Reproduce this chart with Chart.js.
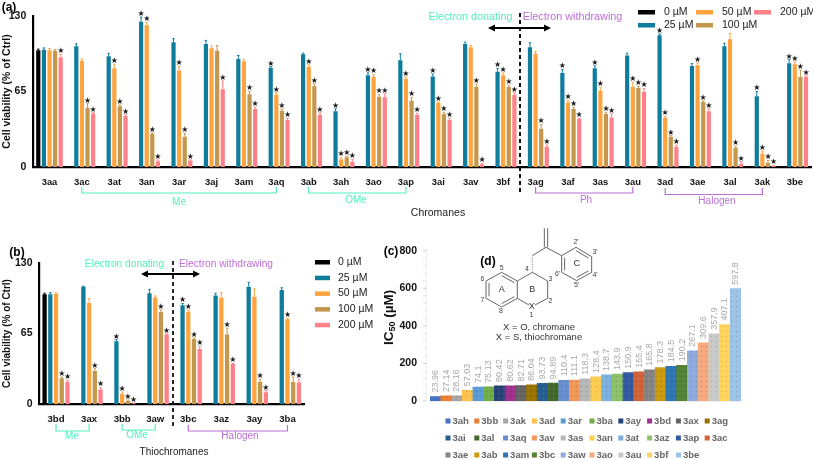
<!DOCTYPE html>
<html>
<head>
<meta charset="utf-8">
<title>Cell viability and IC50</title>
<script src="https://cdn.jsdelivr.net/npm/chart.js@4"></script>
<style>
  html, body { margin: 0; padding: 0; background: #fff; }
  body { width: 813px; height: 460px; position: relative; overflow: hidden; }
  canvas { position: absolute; }
</style>
</head>
<body>
<canvas id="chart-a" width="813" height="230" style="left:0;top:0"></canvas>
<canvas id="chart-b" width="380" height="225" style="left:0;top:235px"></canvas>
<canvas id="chart-c" width="433" height="245" style="left:380px;top:215px"></canvas>
<script>
// (a) chromanes
const catsA = ["3aa","3ac","3at","3an","3ar","3aj","3am","3aq","3ab","3ah","3ao","3ap","3ai","3av","3bf","3ag","3af","3as","3au","3ad","3ae","3al","3ak","3be"];
const a0 = [100.5,null,null,null,null,null,null,null,null,null,null,null,null,null,null,null,null,null,null,null,null,null,null,null];
const a25 = [101,104,95.4,125,107.5,106,93,85.4,97,48,79,92,78,106,82,103,81,85,96,113.5,87,104,61,89.4];
const a50 = [100.5,91.4,85,122,83,102.3,91,62,86,6.6,77.6,76,55,103,79,97.4,55.6,65.6,68.8,42.4,87.7,110,11.7,88.5];
const a100 = [100,51,52.4,28.7,26,100,62.7,48.4,69.6,8.3,60.5,57,45.6,69,68.8,33,50,45.6,68,26,56,16.6,3.7,77.4];
const a200 = [94.5,46,44,5,5.7,67,50,40.4,44.7,4.6,60,44.7,40.7,2.3,62,17.5,41.5,42.7,64.5,17.2,48,2.9,0.9,77.6];
const aErr0 = [1,0,0,0,0,0,0,0,0,0,0,0,0,0,0,0,0,0,0,0,0,0,0,0];
const aErr25 = [1.5,2,2.5,4,3,3,3,1,1,2,2,5.5,2,1.5,3,4,3,2,2,1,2,2.5,4,3];
const aErr50 = [1.5,1.5,3.5,2.5,3.5,2,1.5,2,2,1.5,2,1.5,1,1.5,2,2,2,3,4,1,2,5,2,2];
const aErr100 = [1,3.5,1,0.8,3,4.5,2.5,1.5,2,1,2,3,1.5,2.5,1.5,3.5,1.5,1.5,1.5,1,1,1,2,6];
const aErr200 = [2.5,0.8,1,1,0.5,7,1.5,1.5,2,2,3,1.5,1.5,1,2,1.5,0.5,3,3,1.5,2,1.5,0.3,1];
const aStar0 = catsA.map(() => 0);
const aStar25 = [0,0,0,1,0,0,0,1,0,1,1,0,1,0,1,0,1,1,0,1,0,0,1,1];
const aStar50 = [0,0,1,1,1,0,0,1,1,1,1,1,1,0,1,0,1,1,1,1,1,0,1,1];
const aStar100 = [0,1,1,1,1,0,1,1,1,1,1,1,1,1,1,1,1,1,1,1,1,1,1,1];
const aStar200 = [1,1,1,1,1,1,1,1,1,1,1,1,1,1,1,1,1,1,1,1,1,1,1,1];

// (b) thiochromanes
const catsB = ["3bd","3ax","3bb","3aw","3bc","3az","3ay","3ba"];
const b0 = [101,null,null,null,null,null,null,null];
const b25 = [101,108,57.8,102,91,100,108,105];
const b50 = [101.5,93,9.8,98,84.7,98,98.5,78];
const b100 = [24,30.6,3,84.7,60,64,20.5,20.5];
const b200 = [20.5,13.5,0.9,64,50.8,37,11,20];
const bErr0 = [1,0,0,0,0,0,0,0];
const bErr25 = [1.5,0.5,1.5,3.5,1.5,2,4,2];
const bErr50 = [1,4,1.5,1.5,2,4.5,7.5,1];
const bErr100 = [1,2,1,2,1,6,2.5,4.5];
const bErr200 = [1.5,2,0.3,0.8,2.5,0.5,1.5,3];
const bStar0 = [0,0,0,0,0,0,0,0];
const bStar25 = [0,0,1,0,1,0,0,0];
const bStar50 = [0,0,1,0,1,0,0,1];
const bStar100 = [1,1,1,1,1,1,1,1];
const bStar200 = [1,1,1,1,1,1,1,1];

const doseLabels = ["0 µM","25 µM","50 µM","100 µM","200 µM"];
const doseColors = ["#000000","#0f7c9b","#ffa33f","#c4974f","#ff8088"];

// (c) IC50
const catsC = ["3ah","3bb","3ak","3ad","3ar","3ba","3ay","3bd","3ax","3ag","3ai","3al","3aq","3av","3as","3an","3at","3az","3ap","3ac","3ae","3ab","3am","3bc","3aw","3ao","3au","3bf","3be"];
const ic50 = [23.96,27.14,28.16,57.03,74.1,75.13,80.42,80.62,82.71,86.04,93.73,94.89,110.4,111.1,118.3,128.4,138.7,143.9,150.9,155.4,165.8,178.3,184.5,190.2,267.1,309.6,357.9,407.1,597.8];
const colorsC = ["#4472c4","#ed7d31","#a5a5a5","#ffc04d","#5b9bd5","#70ad47","#264478","#a0308c","#636363","#997300","#255e91","#43682b","#698ed0","#f1975a","#b7b7b7","#ffcd4d","#7cafdd","#8cc168","#335aa1","#d26339","#848484","#c99a10","#2e75b6","#548235","#8faadc","#f4a97f","#c9c9c9","#ffd45c","#9dc3e6"];

const SANS = '"Liberation Sans", Arial, sans-serif';
const GREEN = "#55efc0";
const PURPLE = "#bd6fd6";

Chart.defaults.font.family = SANS;
Chart.defaults.animation = false;

function label(ctx, str, x, y, font, color, align, angle) {
    ctx.save();
    ctx.translate(x, y);
    if (angle) ctx.rotate(angle);
    ctx.font = font;
    ctx.fillStyle = color || "#000";
    ctx.textAlign = align || "center";
    ctx.textBaseline = "middle";
    ctx.fillText(str, 0, 0);
    ctx.restore();
}

function stroke(ctx, pts, color, width, dash) {
    ctx.save();
    ctx.beginPath();
    pts.forEach((p, i) => (i ? ctx.lineTo(p[0], p[1]) : ctx.moveTo(p[0], p[1])));
    ctx.strokeStyle = color;
    ctx.lineWidth = width;
    if (dash) ctx.setLineDash(dash);
    ctx.stroke();
    ctx.restore();
}

function bracket(ctx, x0, x1, yTop, yBot, color, text, textX, textY) {
    stroke(ctx, [[x0, yTop], [x0, yBot], [x1, yBot], [x1, yTop]], color, 1.2);
    label(ctx, text, textX, textY, "10px " + SANS, color);
}

function arrow(ctx, x0, x1, y) {
    stroke(ctx, [[x0 + 3, y], [x1 - 3, y]], "#000", 1.8);
    ctx.save();
    ctx.fillStyle = "#000";
    [[x0, 1], [x1, -1]].forEach(([x, d]) => {
        ctx.beginPath();
        ctx.moveTo(x, y);
        ctx.lineTo(x + d * 7, y - 3.5);
        ctx.lineTo(x + d * 7, y + 3.5);
        ctx.closePath();
        ctx.fill();
    });
    ctx.restore();
}

// error whiskers and significance stars, read from the dataset
const whiskers = {
    id: "whiskers",
    afterDatasetsDraw(chart) {
        const { ctx, scales } = chart;
        chart.data.datasets.forEach((ds, i) => {
            chart.getDatasetMeta(i).data.forEach((bar, j) => {
                const v = ds.data[j];
                if (v === null) return;
                const top = scales.y.getPixelForValue(v + ds.err[j]);
                stroke(ctx, [[bar.x, bar.y], [bar.x, top]], ds.backgroundColor, 1);
                stroke(ctx, [[bar.x - 1.2, top], [bar.x + 1.2, top]], ds.backgroundColor, 1);
                if (ds.star[j]) {
                    label(ctx, "★", bar.x, top - 3.2, '8px "DejaVu Sans"', "#1c1c1c");
                }
            });
        });
    },
};

function doseSets(values, errs, stars) {
    return values.map((data, i) => ({
        label: doseLabels[i],
        data,
        err: errs[i],
        star: stars[i],
        backgroundColor: doseColors[i],
        categoryPercentage: 0.865,
        barPercentage: 0.75,
    }));
}

function doseChart(id, cats, sets, yWidth, xHeight, padding, titleFont, tickFont, tickPad, extra) {
    return new Chart(document.getElementById(id), {
        type: "bar",
        data: { labels: cats, datasets: sets },
        options: {
            responsive: false,
            devicePixelRatio: 1,
            layout: { padding },
            plugins: { legend: { display: false }, tooltip: { enabled: false } },
            scales: {
                x: {
                    grid: { display: false, drawTicks: true, tickLength: 5, tickColor: "#000", tickWidth: 2 },
                    border: { color: "#000", width: 2.2 },
                    ticks: {
                        autoSkip: false,
                        maxRotation: 0,
                        padding: tickPad,
                        color: "#111",
                        font: { size: tickFont, weight: "bold" },
                    },
                    afterFit: (s) => { s.height = xHeight; },
                },
                y: {
                    min: 0,
                    max: 130,
                    grid: { display: false, drawTicks: true, tickLength: 5, tickColor: "#000", tickWidth: 2 },
                    border: { color: "#000", width: 2.2 },
                    title: {
                        display: true,
                        text: "Cell viability (% of Ctrl)",
                        color: "#111",
                        font: { size: titleFont, weight: "bold" },
                        padding: { top: 1, bottom: 0 },
                    },
                    ticks: {
                        stepSize: 32.5,
                        autoSkip: false,
                        padding: 2,
                        color: "#111",
                        font: { size: 10.5, weight: "bold" },
                        callback: (v) => (v % 65 === 0 ? v : ""),
                    },
                    afterFit: (s) => { s.width = yWidth; },
                },
            },
        },
        plugins: [whiskers, extra],
    });
}

doseChart("chart-a", catsA,
    doseSets([a0, a25, a50, a100, a200],
        [aErr0, aErr25, aErr50, aErr100, aErr200],
        [aStar0, aStar25, aStar50, aStar100, aStar200]),
    33.3, 63, { top: 16, right: 2 }, 10.5, 9.4, 5, {
        id: "notesA",
        afterDraw(chart) {
            const { ctx } = chart;
            const px = (c) => chart.scales.x.getPixelForValue(catsA.indexOf(c));
            label(ctx, "(a)", 9, 8, "bold 12px " + SANS);
            label(ctx, "Chromanes", 438, 213, "10.5px " + SANS, "#222");
            bracket(ctx, px("3ac"), px("3aq"), 187, 193, GREEN, "Me", 179, 202);
            bracket(ctx, px("3ab"), px("3ap"), 187, 193, GREEN, "OMe", 356, 200);
            bracket(ctx, px("3ag"), px("3au"), 187, 193, PURPLE, "Ph", 586, 200);
            bracket(ctx, px("3ad"), px("3ak"), 188, 194.5, PURPLE, "Halogen", 717, 201);
            stroke(ctx, [[520, 13], [520, 193]], "#111", 2, [4, 3]);
            arrow(ctx, 488, 551, 28);
            label(ctx, "Electron donating", 470.5, 17, "10.8px " + SANS, GREEN);
            label(ctx, "Electron withdrawing", 572.5, 17, "10.8px " + SANS, PURPLE);
            // legend: two rows in three columns
            const slots = [[638, 12], [638, 25], [696, 12], [696, 25], [754, 12]];
            slots.forEach(([x, y], i) => {
                ctx.fillStyle = doseColors[i];
                ctx.fillRect(x, y - 2, 17, 4.5);
                label(ctx, doseLabels[i], x + 26, y, "10.5px " + SANS, "#222", "left");
            });
        },
    });

doseChart("chart-b", catsB,
    doseSets([b0, b25, b50, b100, b200],
        [bErr0, bErr25, bErr50, bErr100, bErr200],
        [bStar0, bStar25, bStar50, bStar100, bStar200]),
    39.5, 55.7, { top: 27.7, right: 76 }, 10, 9.6, 4, {
        id: "notesB",
        afterDraw(chart) {
            const { ctx } = chart;
            const px = (c) => chart.scales.x.getPixelForValue(catsB.indexOf(c));
            ctx.save();
            ctx.translate(0, -235);
            label(ctx, "(b)", 17, 253, "bold 12px " + SANS);
            label(ctx, "Thiochromanes", 174, 452, "10px " + SANS, "#222");
            bracket(ctx, px("3bd"), px("3ax"), 424, 431, GREEN, "Me", 72, 436.5);
            bracket(ctx, px("3bb"), px("3aw"), 424, 430, GREEN, "OMe", 137, 435.5);
            bracket(ctx, px("3bc"), px("3ba"), 425, 431, PURPLE, "Halogen", 240, 436.5);
            stroke(ctx, [[173, 261], [173, 428]], "#111", 1.8, [4, 3]);
            arrow(ctx, 141, 200, 274);
            label(ctx, "Electron donating", 124.5, 264, "10.2px " + SANS, GREEN);
            label(ctx, "Electron withdrawing", 226, 264, "10.2px " + SANS, PURPLE);
            doseLabels.forEach((t, i) => {
                const y = 262 + i * 15.7;
                ctx.fillStyle = doseColors[i];
                ctx.fillRect(315, y - 2, 15, 4.5);
                label(ctx, t, 338, y, "10.5px " + SANS, "#222", "left");
            });
            ctx.restore();
        },
    });

// Excel style dotted fill
function dotted(color) {
    const tile = document.createElement("canvas");
    tile.width = 5;
    tile.height = 5;
    const t = tile.getContext("2d");
    t.fillStyle = color;
    t.fillRect(0, 0, 5, 5);
    t.fillStyle = "rgba(0,0,0,0.18)";
    t.fillRect(1, 1, 1, 1);
    t.fillStyle = "rgba(255,255,255,0.18)";
    t.fillRect(3, 3, 1, 1);
    return t.createPattern(tile, "repeat");
}

function structure(ctx) {
    const c = "#555";
    const P = (x, y) => [475 + x / 3, 215 + y / 3];
    const line = (pts, w) => stroke(ctx, pts.map((p) => P(p[0], p[1])), c, w || 0.9);
    line([[127, 198], [80, 172], [33, 198], [33, 250], [80, 276], [127, 250], [127, 198]]);
    line([[127, 198], [172, 172], [218, 198], [218, 250], [180, 270]]);
    line([[127, 250], [162, 270]]);
    line([[118, 203], [80, 182]]);
    line([[42, 204], [42, 244]]);
    line([[80, 266], [118, 245]]);
    for (let i = 0; i < 7; i++) {
        const y = 168 - i * 6.5;
        line([[172 - 1 - i * 0.15, y], [172 + 1 + i * 0.15, y]], 0.7);
    }
    line([[172, 122], [213, 97], [260, 122]]);
    line([[208, 97], [208, 40]]);
    line([[218, 97], [218, 40]]);
    line([[260, 122], [303, 97], [350, 125], [350, 172], [305, 197], [260, 172], [260, 122]]);
    line([[303, 107], [340, 129]]);
    line([[340, 168], [305, 187]]);
    line([[269, 166], [269, 128]]);
    const small = "7px " + SANS;
    [["5", 80, 160], ["6", 22, 192], ["7", 22, 256], ["8", 78, 289], ["4", 156, 163], ["3", 226, 193],
     ["2", 226, 258], ["2'", 303, 82], ["3'", 360, 112], ["4'", 360, 180], ["5'", 305, 211], ["6'", 248, 178],
     ["1", 169, 299]].forEach(([t, x, y]) => {
        const p = P(x, y);
        label(ctx, t, p[0], p[1], small, "#444");
    });
    const big = "9px " + SANS;
    [["A", 80, 224], ["B", 172, 224], ["C", 305, 146], ["X", 170, 276]].forEach(([t, x, y]) => {
        const p = P(x, y);
        label(ctx, t, p[0], p[1], big, "#333");
    });
    label(ctx, "(d)", 488, 262, "bold 12px " + SANS);
    label(ctx, "X = O, chromane", 539, 327, "9.5px " + SANS, "#333");
    label(ctx, "X = S, thiochromane", 539, 337, "9.5px " + SANS, "#333");
}

new Chart(document.getElementById("chart-c"), {
    type: "bar",
    data: {
        labels: catsC,
        datasets: [{
            label: "IC50",
            data: ic50,
            backgroundColor: colorsC.map(dotted),
            categoryPercentage: 1,
            barPercentage: 1,
        }],
    },
    options: {
        responsive: false,
        devicePixelRatio: 1,
        layout: { padding: { top: 35.7, right: 72 } },
        plugins: { legend: { display: false }, tooltip: { enabled: false } },
        scales: {
            x: {
                grid: { display: false, drawTicks: false },
                border: { color: "#eeeeee", width: 1 },
                ticks: { display: false },
                afterFit: (s) => { s.height = 59; },
            },
            y: {
                min: 0,
                max: 800,
                grid: { display: false, drawTicks: false },
                border: { display: false },
                ticks: {
                    stepSize: 40,
                    autoSkip: false,
                    padding: 13,
                    color: "#111",
                    font: { size: 10.5, weight: "bold" },
                    callback: (v) => (v % 200 === 0 ? v : ""),
                },
                afterFit: (s) => { s.width = 50; },
            },
        },
    },
    plugins: [{
        id: "notesC",
        afterDraw(chart) {
            const { ctx, scales } = chart;
            const meta = chart.getDatasetMeta(0);
            ic50.forEach((v, i) => {
                const bar = meta.data[i];
                label(ctx, String(v), bar.x, bar.y - 4, "9px " + SANS, "#a9a9a9", "left", -Math.PI / 2);
            });
            ctx.save();
            ctx.translate(-380, -215);
            // faint y axis sits a little left of the first bar
            stroke(ctx, [[426.5, scales.y.top + 215], [426.5, scales.y.bottom + 215]], "#eeeeee", 1);
            scales.y.ticks.forEach((t) => {
                const y = scales.y.getPixelForValue(t.value) + 215;
                stroke(ctx, [[423, y], [426.5, y]], t.value % 200 === 0 ? "#cccccc" : "#e4e4e4", 1);
            });
            label(ctx, "(c)", 391, 252, "bold 12px " + SANS);
            // rotated IC50 title with subscript
            ctx.save();
            ctx.translate(389, 345);
            ctx.rotate(-Math.PI / 2);
            ctx.textBaseline = "middle";
            ctx.fillStyle = "#111";
            ctx.font = "bold 13.5px " + SANS;
            ctx.fillText("IC", 0, 0);
            const icW = ctx.measureText("IC").width;
            ctx.font = "bold 9px " + SANS;
            ctx.fillText("50", icW, 4);
            const subW = ctx.measureText("50").width;
            ctx.font = "bold 13.5px " + SANS;
            ctx.fillText(" (µM)", icW + subW, 0);
            ctx.restore();
            structure(ctx);
            // legend: three rows of fixed columns
            catsC.forEach((c, i) => {
                const x = 445.5 + (i % 10) * 28.8;
                const y = 421 + Math.floor(i / 10) * 17;
                ctx.fillStyle = colorsC[i];
                ctx.fillRect(x, y - 2.5, 5, 5);
                label(ctx, c, x + 7, y, "bold 9.5px " + SANS, "#666", "left");
            });
            ctx.restore();
        },
    }],
});
</script>
</body>
</html>
